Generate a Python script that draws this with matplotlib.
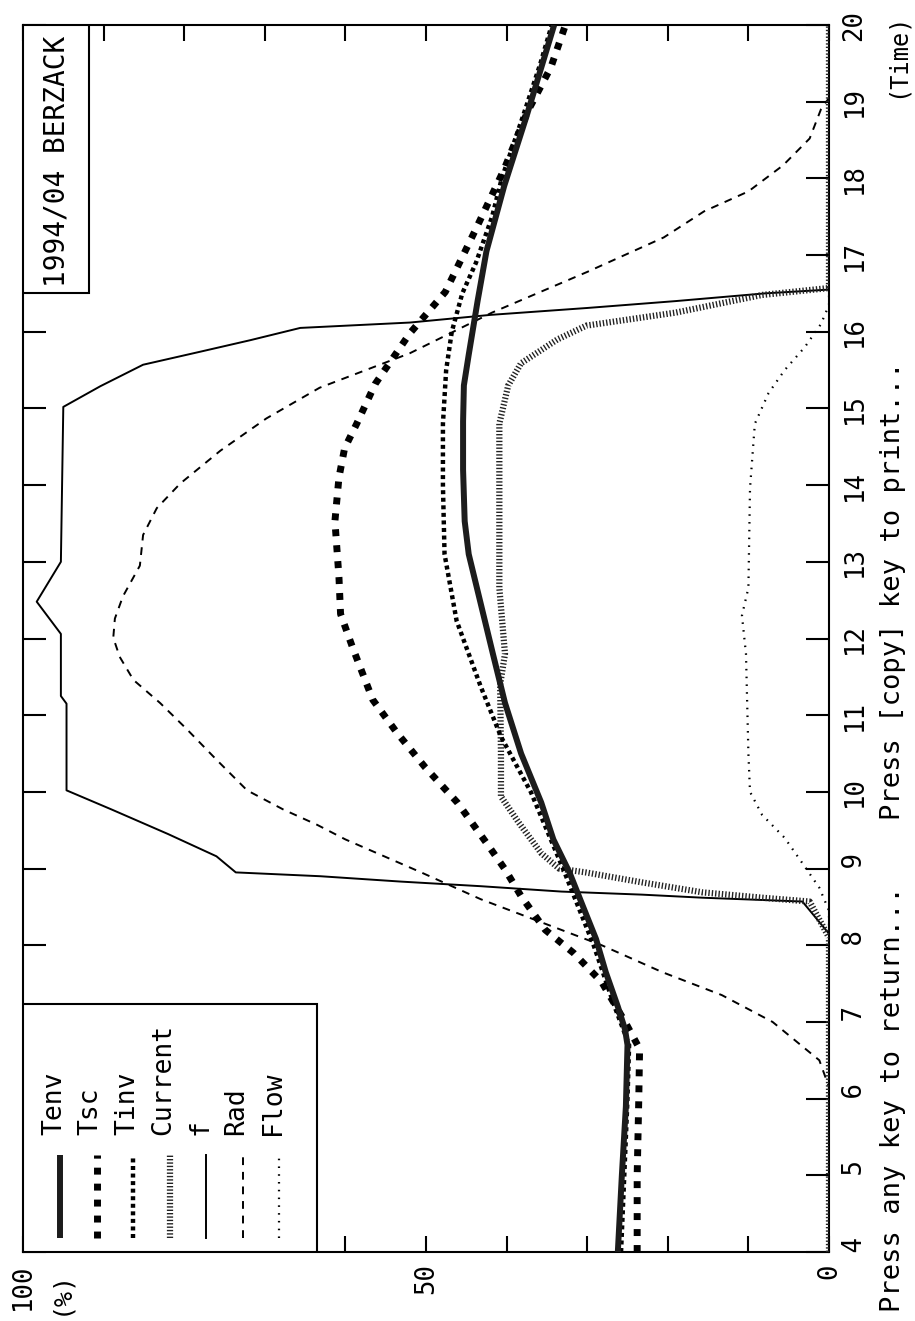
import matplotlib
matplotlib.use("Agg")
import matplotlib.pyplot as plt
import matplotlib.transforms as mtransforms
from matplotlib.patches import Rectangle

plt.rcParams['font.family'] = ['DejaVu Sans Mono']

tenv_t = [4.0, 5.0, 5.9, 6.7, 6.9, 7.2, 7.65, 8.08, 8.5, 8.95, 9.38, 9.86, 10.5, 11.16,
          11.8, 12.45, 13.1, 13.53, 14.2, 14.83, 15.3, 15.7, 16.4, 17.05, 17.9, 18.82, 20.0]
tenv_v = [26.2, 25.7, 25.2, 25.0, 25.3, 26.2, 27.7, 28.9, 30.5, 32.2, 34.2, 35.7, 38.2, 40.2,
          41.7, 43.2, 44.7, 45.2, 45.4, 45.4, 45.3, 44.7, 43.6, 42.5, 40.3, 37.5, 34.1]

tsc_t = [4.0, 5.0, 6.0, 6.65, 7.0, 7.52, 7.9, 8.2, 8.64, 8.99, 9.29, 9.86, 10.32, 10.77, 11.2,
         11.88, 12.32, 12.8, 13.53, 14.1, 14.48, 14.8, 15.32, 15.98, 16.52, 17.32, 18.12, 18.87,
         19.45, 20.0]
tsc_v = [23.8, 23.8, 23.6, 23.5, 25.3, 28.2, 31.7, 35.2, 38.2, 40.2, 42.2, 46.1, 50.1, 53.6, 56.6,
         59.1, 60.6, 60.8, 61.3, 60.8, 60.1, 58.6, 56.3, 52.0, 47.6, 43.9, 40.3, 37.4,
         34.5, 32.7]

tinv_t = [4.0, 5.0, 6.0, 6.7, 7.2, 8.0, 9.0, 10.0, 10.72, 11.37, 12.23, 13.1, 14.0, 14.8, 15.5,
          16.0, 16.5, 16.9, 17.5, 18.0, 18.8, 19.5, 20.0]
tinv_v = [25.8, 25.4, 25.0, 24.8, 26.6, 29.2, 33.0, 37.0, 40.7, 43.2, 46.2, 47.7, 47.9, 47.9, 47.5,
          46.8, 45.5, 43.8, 41.8, 40.6, 38.0, 35.8, 34.4]

current_t = [4.0, 8.1, 8.57, 8.62, 8.69, 8.82, 8.95, 9.0, 9.2, 9.6, 9.94, 10.5, 11.4, 11.8, 12.66,
             13.1, 14.8, 15.3, 15.59, 15.9, 16.08, 16.25, 16.48, 16.57, 20.0]
current_v = [0, 0, 2.4, 8.3, 15.7, 23.2, 30.2, 33.5, 35.7, 38.5, 40.7, 40.7, 40.8, 40.2, 40.9,
             40.9, 40.9, 39.8, 38.2, 33.7, 30.1, 19.0, 8.3, 0, 0]

f_t = [4.0, 8.15, 8.57, 8.62, 8.66, 8.7, 8.77, 8.83, 8.9, 8.95, 9.16, 9.45, 9.77, 10.02, 11.15,
       11.25, 12.06, 12.48, 13.0, 15.02, 15.29, 15.57, 15.74, 15.89, 16.05, 16.12, 16.22, 16.31,
       16.4, 16.5, 16.55, 20.0]
f_v = [0, 0, 3.3, 15.7, 23.2, 33.2, 43.2, 53.1, 63.1, 73.6, 76.0, 82.0, 89.0, 94.6, 94.6,
       95.3, 95.3, 98.3, 95.3, 95.0, 90.4, 85.1, 78.0, 71.8, 65.6, 52.0, 42.0, 30.0,
       19.0, 8.0, 0, 0]

rad_t = [4.0, 6.15, 6.5, 7.0, 7.35, 7.65, 8.0, 8.3, 8.6, 8.95, 9.38, 9.57, 9.77, 10.02, 10.42,
         10.82, 11.16, 11.46, 11.76, 12.01, 12.26, 12.55, 12.95, 13.35, 13.7, 14.02, 14.45,
         14.87, 15.27, 15.72, 16.25, 16.78, 17.23, 17.57, 17.83, 18.17, 18.52, 18.9, 19.05, 20.0]
rad_v = [0, 0, 1.2, 7.0, 13.3, 20.7, 28.2, 35.7, 43.2, 50.6, 60.0, 63.5, 67.7, 72.2, 76.0,
         79.7, 83.0, 86.3, 88.0, 88.8, 88.6, 87.6, 85.5, 85.1, 83.4, 80.5, 75.5,
         69.8, 63.2, 52.0, 41.8, 30.0, 20.5, 15.5, 10.0, 5.7, 2.4, 1.0, 0, 0]

flow_t = [4.0, 8.45, 8.75, 9.1, 9.4, 9.7, 10.0, 10.5, 11.8, 12.3, 12.66, 13.96, 14.8, 15.2, 15.5,
          15.8, 16.1, 16.35, 20.0]
flow_v = [0, 0, 1.2, 3.5, 5.5, 8.3, 9.8, 10.0, 10.3, 10.8, 10.0, 9.8, 9.2, 7.5, 5.5,
          3.0, 1.0, 0, 0]

hours = list(range(4, 21))
pct_ticks = list(range(0, 101, 10))
pct_labels = ['0', '', '', '', '', '50', '', '', '', '', '100']

# line styles (plotter pens)
styles = {
    'Tenv': dict(color='#1c1c1c', lw=4.3, solid_capstyle='butt'),
    'Tsc': dict(color='black', lw=5.0, linestyle=(0, (1.0, 1.3)), dash_capstyle='butt'),
    'Tinv': dict(color='black', lw=3.2, linestyle=(0, (0.9, 0.8)), dash_capstyle='butt'),
    'Current': dict(color='#222222', lw=4.5, linestyle=(0, (0.22, 0.32)), dash_capstyle='butt'),
    'f': dict(color='black', lw=1.4),
    'Rad': dict(color='black', lw=1.4, linestyle=(0, (4, 3.5))),
    'Flow': dict(color='black', lw=1.6, linestyle=(0, (0.7, 2.8))),
}
series = [('Tenv', tenv_t, tenv_v), ('Tsc', tsc_t, tsc_v), ('Tinv', tinv_t, tinv_v),
          ('Current', current_t, current_v), ('f', f_t, f_v), ('Rad', rad_t, rad_v),
          ('Flow', flow_t, flow_v)]
zorders = {'Tenv': 6, 'Tsc': 5.5, 'Tinv': 5, 'Current': 4, 'f': 3, 'Rad': 3, 'Flow': 3}

fig = plt.figure(figsize=(9.15, 13.21), dpi=100)
ax = fig.add_axes([23 / 915, 69 / 1321, 806 / 915, 1227 / 1321])

# the chart is drawn turned by 90 degrees: time runs up, percent runs to the left
for name, t, v in series:
    ax.plot(v, t, zorder=zorders[name], **styles[name])

ax.set_xlim(100, 0)
ax.set_ylim(4, 20)

for s in ax.spines.values():
    s.set_linewidth(1.5)

ax.set_xticks(pct_ticks, labels=pct_labels, rotation=90)
ax.tick_params(axis='x', direction='in', length=11.5, width=1.5, top=True, bottom=True,
               labelsize=18.5, pad=8)
ax.set_yticks(hours, labels=[f"{h:2d}" for h in hours], rotation=90, va='center')
ax.tick_params(axis='y', direction='in', length=16.5, width=1.5, left=True, right=True,
               labelleft=False, labelright=True, labelsize=18.5, pad=9)

# "(%)" under the 100 label
trans = mtransforms.blended_transform_factory(ax.transData, ax.transAxes)
ax.text(95.4, -0.0147, '(%)', transform=trans, rotation=90, ha='center', va='top',
        fontsize=18, clip_on=False)

# title box
ax.add_patch(Rectangle((91.8, 16.5), 8.2, 3.5, facecolor='white', edgecolor='black',
                       lw=1.5, zorder=8))
ax.text(95.8, 18.22, '1994/04 BERZACK', rotation=90, ha='center', va='center',
        fontsize=20, zorder=9)

# legend box, entries side by side as columns
ax.add_patch(Rectangle((63.5, 4.0), 36.5, 3.23, facecolor='white', edgecolor='black',
                       lw=1.5, zorder=8))
for i, (name, t, v) in enumerate(series):
    px = 95.4 - 4.53 * i
    ax.plot([px, px], [4.18, 5.26], zorder=9, **styles[name])
    ax.text(px + 0.75, 5.53, name, rotation=90, ha='center', va='bottom',
            fontsize=19, zorder=9)

fig.text(897 / 915, 1 - 55 / 1321, '(Time)', rotation=90, ha='center', va='center',
         fontsize=17)
fig.text(893 / 915, (1321 - 1312) / 1321, 'Press any key to return...', rotation=90,
         ha='center', va='bottom', fontsize=19.5)
fig.text(893 / 915, (1321 - 820) / 1321, 'Press [copy] key to print...', rotation=90,
         ha='center', va='bottom', fontsize=19.5)

fig.savefig('out.png', dpi=100)
